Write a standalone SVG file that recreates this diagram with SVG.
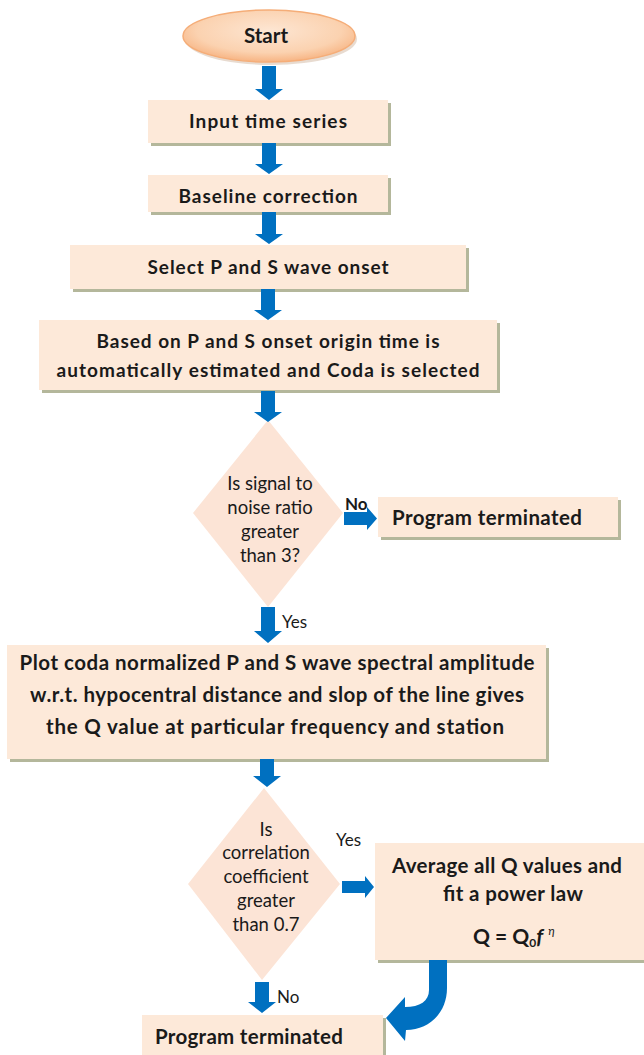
<svg xmlns="http://www.w3.org/2000/svg" width="644" height="1055" viewBox="0 0 644 1055">
<defs>
<radialGradient id="startGrad" cx="50%" cy="40%" r="60%">
<stop offset="0%" stop-color="#fde6d3"/>
<stop offset="70%" stop-color="#fbd2b0"/>
<stop offset="100%" stop-color="#f7b483"/>
</radialGradient>
<style>
.box{fill:#fde9d9;}
.shadow{fill:#b4b79b;}
.dia{fill:#fce4d6;}
.arrow{fill:#0070c0;}
.t{font-family:Lato,"Liberation Sans",sans-serif;font-weight:bold;fill:#1a1a1a;text-anchor:middle;}
.b{font-size:19px;}
.p{font-size:20.5px;}
.d{font-family:Lato,"Liberation Sans",sans-serif;font-size:18.5px;fill:#1a1a1a;text-anchor:middle;}
.lbl{font-family:Lato,"Liberation Sans",sans-serif;font-size:17px;fill:#1a1a1a;}
</style>
</defs>
<rect width="644" height="1055" fill="#ffffff"/>

<g id="start">
<ellipse cx="271" cy="39" rx="86" ry="26" fill="#d9c3b0" opacity="0.6"/>
<ellipse cx="269" cy="36" rx="86" ry="26" fill="url(#startGrad)" stroke="#f5ad78" stroke-width="1.5"/>
<text class="t" x="266" y="43" font-size="20.5">Start</text>
</g>

<g id="input">
<rect class="shadow" x="151" y="103" width="240" height="43"/>
<rect class="box" x="148" y="100" width="240" height="43"/>
<text class="t b" x="268" y="128" textLength="158">Input time series</text>
</g>

<g id="baseline">
<rect class="shadow" x="151" y="178" width="240" height="37"/>
<rect class="box" x="148" y="175" width="240" height="37"/>
<text class="t b" x="268" y="203" textLength="179">Baseline correction</text>
</g>

<g id="select">
<rect class="shadow" x="73" y="248" width="396" height="44"/>
<rect class="box" x="70" y="245" width="396" height="44"/>
<text class="t b" x="268" y="274" textLength="241">Select P and S wave onset</text>
</g>

<g id="based">
<rect class="shadow" x="42" y="323" width="458" height="70"/>
<rect class="box" x="39" y="320" width="458" height="70"/>
<text class="t b" x="268" y="348" textLength="343">Based on P and S onset origin time is</text>
<text class="t b" x="268" y="377" textLength="423">automatically estimated and Coda is selected</text>
</g>

<g id="decision1">
<polygon class="dia" points="268,420 343,513 268,607 193,513"/>
<text class="d" x="270" y="490">Is signal to</text>
<text class="d" x="270" y="514">noise ratio</text>
<text class="d" x="270" y="538">greater</text>
<text class="d" x="270" y="562">than 3?</text>
</g>

<g id="terminated1">
<rect class="shadow" x="381" y="500" width="240" height="40"/>
<rect class="box" x="378" y="497" width="240" height="40"/>
<text class="t" x="392" y="525" font-size="20.5" style="text-anchor:start" textLength="190">Program terminated</text>
</g>

<g id="plot">
<rect class="shadow" x="10" y="648" width="539" height="114"/>
<rect class="box" x="7" y="645" width="539" height="114"/>
<text class="t p" x="277" y="670" textLength="515">Plot coda normalized P and S wave spectral amplitude</text>
<text class="t p" x="277" y="702" textLength="494">w.r.t. hypocentral distance and slop of the line gives</text>
<text class="t p" x="275" y="734" textLength="458">the Q  value at particular frequency and station</text>
</g>

<g id="decision2">
<polygon class="dia" points="264,788 340,884 262,980 188,884"/>
<text class="d" x="266" y="836">Is</text>
<text class="d" x="266" y="859">correlation</text>
<text class="d" x="266" y="883">coefficient</text>
<text class="d" x="266" y="907">greater</text>
<text class="d" x="266" y="931">than 0.7</text>
</g>

<g id="average">
<rect class="shadow" x="378" y="846" width="270" height="117"/>
<rect class="box" x="375" y="843" width="272" height="117"/>
<text class="t" x="507" y="873" font-size="20.5" textLength="230">Average all Q values and</text>
<text class="t" x="513" y="901" font-size="20.5" textLength="140">fit a power law</text>
<text class="t" x="473" y="944" font-size="21" style="text-anchor:start">Q = Q<tspan font-size="12" dy="3">0</tspan><tspan dy="-3" font-style="italic">f</tspan><tspan font-size="12" dy="-9" font-weight="normal" font-style="italic" dx="5">η</tspan></text>
</g>

<g id="terminated2">
<rect class="shadow" x="145" y="1018" width="241" height="45"/>
<rect class="box" x="142" y="1015" width="241" height="45"/>
<text class="t" x="155" y="1044" font-size="20.5" style="text-anchor:start" textLength="188">Program terminated</text>
</g>

<g id="connectors">
<polygon class="arrow" points="262,66 276,66 276,89 283,89 269,100 255,89 262,89"/>
<polygon class="arrow" points="262,143 276,143 276,164 283,164 269,174 255,164 262,164"/>
<polygon class="arrow" points="262,212 276,212 276,234 283,234 269,244 255,234 262,234"/>
<polygon class="arrow" points="261,289 275,289 275,310 282,310 268,320 254,310 261,310"/>
<polygon class="arrow" points="261,391 275,391 275,412 282,412 268,422 254,412 261,412"/>
<polygon class="arrow" points="261,607 275,607 275,631 282,631 268,643 254,631 261,631"/>
<polygon class="arrow" points="260,759 274,759 274,776 281,776 267,787 253,776 260,776"/>
<polygon class="arrow" points="255,982 269,982 269,1002 276,1002 262,1013 248,1002 255,1002"/>
<polygon class="arrow" points="344,512 367,512 367,507 377,518.5 367,530 367,525 344,525"/>
<polygon class="arrow" points="342,881 365,881 365,876 374,887 365,898 365,893 342,893"/>
<path class="arrow" d="M429,960 L447,960 L447,988 C447,1012 430,1030 406,1030 L405,1041 L386,1018 L405,997 L405,1007 C420,1007 429,1001 429,990 Z"/>
<text class="lbl" x="345" y="510" font-weight="bold">No</text>
<text class="lbl" x="282" y="628">Yes</text>
<text class="lbl" x="336" y="846">Yes</text>
<text class="lbl" x="277" y="1003">No</text>
</g>
</svg>
